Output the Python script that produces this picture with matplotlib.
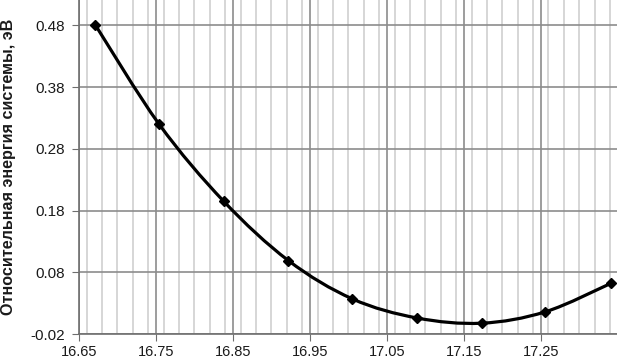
import numpy as np
import matplotlib
matplotlib.use("Agg")
import matplotlib.pyplot as plt
from matplotlib.path import Path
from matplotlib.patches import PathPatch
from matplotlib.ticker import MultipleLocator, FixedLocator

# Data
lattice = [16.671, 16.754, 16.838, 16.922, 17.005, 17.089, 17.173, 17.256, 17.341]
energy = [0.481, 0.320, 0.195, 0.099, 0.037, 0.006, -0.0025, 0.016, 0.062]

x_ticks = [16.65, 16.75, 16.85, 16.95, 17.05, 17.15, 17.25]
y_ticks = [-0.02, 0.08, 0.18, 0.28, 0.38, 0.48]

plt.rcParams['font.family'] = ['Liberation Sans', 'DejaVu Sans']

fig = plt.figure(figsize=(6.17, 3.59), dpi=100)
ax = fig.add_axes([79 / 617, 25 / 359, 538 / 617, 334 / 359])

ax.set_xlim(16.65, 17.349)
ax.set_ylim(-0.02, 0.521)

ax.xaxis.set_major_locator(FixedLocator(x_ticks))
ax.xaxis.set_minor_locator(MultipleLocator(0.02))
ax.yaxis.set_major_locator(FixedLocator(y_ticks))
ax.set_xticklabels(["%.2f" % v for v in x_ticks])
ax.set_yticklabels(["%.2f" % v for v in y_ticks])

ax.grid(which='major', axis='x', color='#8c8c8c', linewidth=1.2)
ax.grid(which='minor', axis='x', color='#cfcfcf', linewidth=1.2)
ax.grid(which='major', axis='y', color='#8c8c8c', linewidth=1.2)
ax.set_axisbelow(True)

for s in ['top', 'right']:
    ax.spines[s].set_visible(False)
for s in ['left', 'bottom']:
    ax.spines[s].set_color('#6e6e6e')
    ax.spines[s].set_linewidth(1.2)

ax.tick_params(which='major', direction='out', length=5, color='#6e6e6e',
               labelsize=10.5, labelcolor='#1a1a1a')
ax.tick_params(axis='x', which='major', pad=3)
ax.tick_params(axis='y', which='major', pad=5, labelsize=11)
ax.tick_params(which='minor', length=0)

# smoothed line (Bezier through the points, like a spreadsheet smooth line)
x = np.array(lattice)
y = np.array(energy)
n = len(x)
verts = [(x[0], y[0])]
codes = [Path.MOVETO]
for i in range(n - 1):
    p0 = np.array([x[max(i - 1, 0)], y[max(i - 1, 0)]])
    p1 = np.array([x[i], y[i]])
    p2 = np.array([x[i + 1], y[i + 1]])
    p3 = np.array([x[min(i + 2, n - 1)], y[min(i + 2, n - 1)]])
    c1 = p1 + (p2 - p0) / 6
    c2 = p2 - (p3 - p1) / 6
    verts += [tuple(c1), tuple(c2), tuple(p2)]
    codes += [Path.CURVE4, Path.CURVE4, Path.CURVE4]
ax.add_patch(PathPatch(Path(verts, codes), facecolor='none', edgecolor='black',
                       linewidth=2.3, zorder=3, clip_on=False))

ax.plot(lattice, energy, linestyle='none', marker='D', markersize=5.5,
        color='black', zorder=4, clip_on=False)

ax.set_ylabel("Относительная энергия системы, эВ", fontsize=11.6,
              fontweight='bold', color='#1a1a1a')
ax.yaxis.set_label_coords(-63 / 538, 0.5)

fig.savefig("out.png", dpi=100)
